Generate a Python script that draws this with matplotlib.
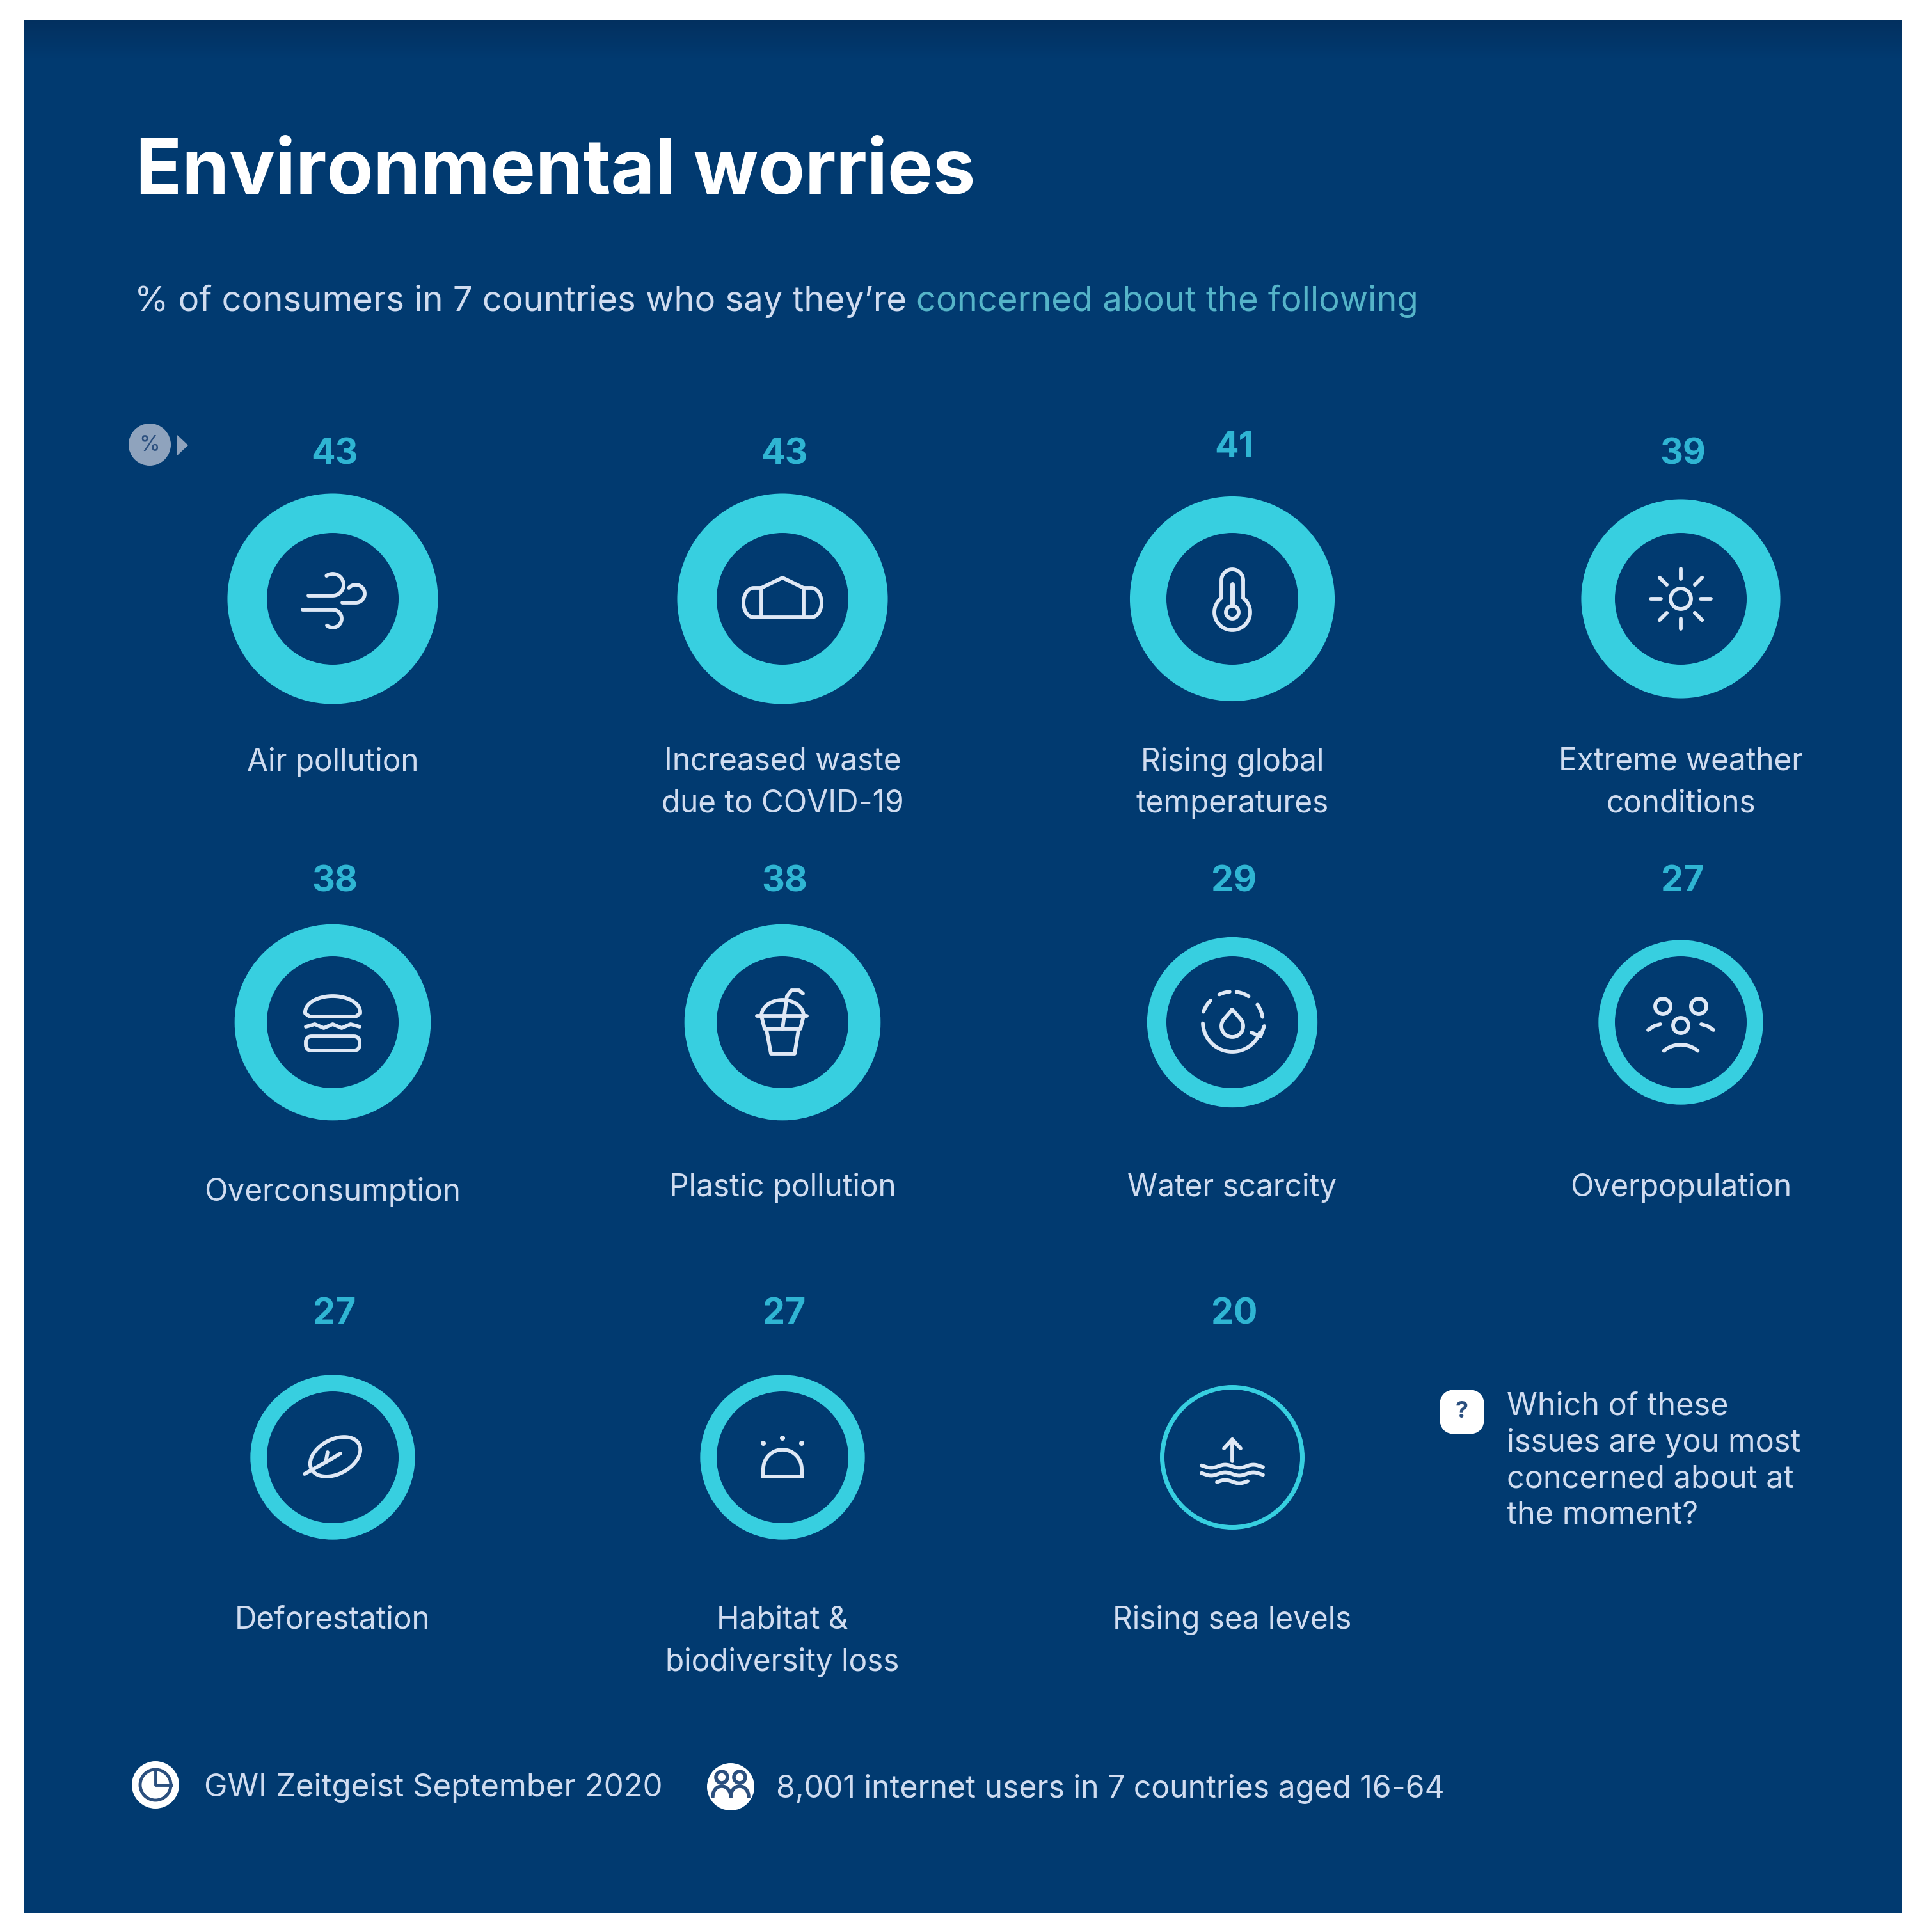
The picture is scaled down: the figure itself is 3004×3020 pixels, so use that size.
import numpy as np
import matplotlib
matplotlib.use("Agg")
import matplotlib.pyplot as plt
from matplotlib.patches import Wedge, Circle, Rectangle, FancyBboxPatch, Polygon

categories = ["Air pollution", "Increased waste\ndue to COVID-19", "Rising global\ntemperatures",
              "Extreme weather\nconditions", "Overconsumption", "Plastic pollution", "Water scarcity",
              "Overpopulation", "Deforestation", "Habitat &\nbiodiversity loss", "Rising sea levels"]
values = [43, 43, 41, 39, 38, 38, 29, 27, 27, 27, 20]
title = "Environmental worries"
subtitle_a = "% of consumers in 7 countries who say they\u2019re "
subtitle_b = "concerned about the following"
question = "Which of these\nissues are you most\nconcerned about at\nthe moment?"
source = "GWI Zeitgeist September 2020"
base = "8,001 internet users in 7 countries aged 16-64"

BG = "#013a70"; CY = "#37cfe0"; NUM = "#2fb5d3"; TXT = "#d0dcf0"; IC = "#dfe8f5"
FONT = "Inter"
plt.rcParams["font.family"] = [FONT, "DejaVu Sans"]

fig = plt.figure(figsize=(30.04, 30.20), dpi=100, facecolor="white")
ax = fig.add_axes([0, 0, 1, 1]); ax.set_xlim(0, 3004); ax.set_ylim(3020, 0); ax.axis("off")
ax.add_patch(Rectangle((37, 31), 2935, 2960, fc=BG, ec="none"))
# darker band at the panel's top edge
ax.imshow(np.linspace(0, 1, 60)[:, None], extent=(37, 2972, 91, 31), aspect="auto",
          cmap=matplotlib.colors.LinearSegmentedColormap.from_list("b", ["#03305f", BG]), zorder=1)
ax.set_xlim(0, 3004); ax.set_ylim(3020, 0)

col_x = [520, 1223, 1926, 2627]
row_y = [936, 1598, 2278]
num_y = [710, 1378, 2054]
lab_y = [1168, 1833, 2509]
LW = 4.2

def outer(v):
    return 113 + 2.24 * (v - 20)

def line(cx, cy, pts, lw=LW):
    p = np.array(pts, float)
    ax.plot(cx + p[:, 0], cy + p[:, 1], color=IC, lw=lw, solid_capstyle="round", solid_joinstyle="round", zorder=5)

def circ(cx, cy, x, y, r, lw=LW):
    ax.add_patch(Circle((cx + x, cy + y), r, fc="none", ec=IC, lw=lw, zorder=5))

def arcpts(x, y, r, a0, a1, ry=None):
    t = np.radians(np.linspace(a0, a1, 40))
    return np.c_[x + r * np.cos(t), y + (ry if ry else r) * np.sin(t)]

def arc(cx, cy, x, y, r, a0, a1, lw=LW):
    line(cx, cy, arcpts(x, y, r, a0, a1), lw)

def wind(cx, cy):
    line(cx, cy, np.r_[[(-38, -5), (0, -5)], arcpts(0, -22, 17, 90, -125)])
    line(cx, cy, np.r_[[(15, 6), (36, 6)], arcpts(36, -8, 14, 90, -140)])
    line(cx, cy, np.r_[[(-47, 17), (0, 17)], arcpts(0, 31, 14, -90, 130)])

def mask(cx, cy):
    line(cx, cy, np.r_[[(-33, -17), (0, -33), (33, -17), (45, -17)], arcpts(45, 6, 16, -90, 90, ry=23),
                       [(-45, 29)], arcpts(-45, 6, 16, 90, 270, ry=23), [(-33, -17)]])
    line(cx, cy, [(-33, -17), (-33, 29)])
    line(cx, cy, [(33, -17), (33, 29)])

def thermo(cx, cy):
    bulb = arcpts(0, 21, 28, -52.5, 232.5)
    stem = arcpts(0, -29, 17, 180, 360)
    line(cx, cy, np.r_[bulb, stem])
    line(cx, cy, [(17, -29), bulb[0]])
    circ(cx, cy, 0, 21, 10)
    line(cx, cy, [(0, -23), (0, 11)], lw=5)

def sun(cx, cy):
    circ(cx, cy, 0, 0, 16)
    for a in range(0, 360, 45):
        r = np.radians(a)
        line(cx, cy, [(31 * np.cos(r), 31 * np.sin(r)), (47 * np.cos(r), 47 * np.sin(r))])

def burger(cx, cy):
    line(cx, cy, np.r_[arcpts(0, -16, 43, 180, 360, ry=25), [(43, -14), (36, -9), (-36, -9), (-43, -14), (-43, -16)]])
    line(cx, cy, [(-42, 7), (-28, 3), (-14, 9), (0, 3), (14, 9), (28, 3), (42, 7)])
    ax.add_patch(FancyBboxPatch((cx - 42, cy + 22), 84, 22, boxstyle="round,pad=0,rounding_size=9", fc="none", ec=IC, lw=LW, zorder=5))

def cup(cx, cy):
    line(cx, cy, [(-40, -10), (38, -10)])
    line(cx, cy, arcpts(0, -10, 33, 180, 360, ry=25))
    line(cx, cy, [(-33, -10), (-28, 10), (28, 10), (33, -10)])
    line(cx, cy, [(-25, 12), (-18, 49), (19, 49), (25, 12)])
    line(cx, cy, [(0, 10), (7, -41), (14, -50), (26, -50), (32, -45)])

def water(cx, cy):
    t = np.radians(np.linspace(-40, 220, 50))
    line(cx, cy, np.r_[[(0, -20)], np.c_[17 * np.cos(t), 6 + 17 * np.sin(t)], [(0, -20)]])
    for a0, a1 in [(200, 225), (245, 265), (278, 302), (325, 350)]:
        arc(cx, cy, 0, 0, 48, a0, a1)
    arc(cx, cy, 0, 0, 46, 20, 178)
    line(cx, cy, [(30, 16), (44, 22), (50, 6)])

def people(cx, cy):
    circ(cx, cy, -28, -25, 12); circ(cx, cy, 28, -25, 12); circ(cx, cy, 0, 5, 12)
    line(cx, cy, [(-51, 12), (-42, 6), (-32, 3)]); line(cx, cy, [(51, 12), (42, 6), (32, 3)])
    arc(cx, cy, 0, 76, 41, 230, 310)

def leaf(cx, cy):
    p = arcpts(0, 0, 42, 0, 180, ry=27)
    q = arcpts(0, 0, 42, 180, 360, ry=27)
    c, s = np.cos(np.radians(-28)), np.sin(np.radians(-28))
    R = np.array([[c, -s], [s, c]])
    line(cx, cy, np.r_[p, q] @ R.T + [4, -1])
    line(cx, cy, [(-44, 26), (-8, 6), (12, -6)]); line(cx, cy, [(-11, 8), (-8, -8)])

def habitat(cx, cy):
    line(cx, cy, np.r_[arcpts(0, 18, 30, 180, 360), [(31, 30), (-31, 30), (-30, 18)]])
    for x, y in [(-30, -22), (0, -30), (30, -22)]:
        ax.add_patch(Circle((cx + x, cy + y), 4, fc=IC, ec="none", zorder=5))

def sea(cx, cy):
    line(cx, cy, [(0, 6), (0, -28)]); line(cx, cy, [(-13, -14), (0, -28), (13, -14)])
    for y, w in [(14, 48), (26, 48), (38, 24)]:
        x = np.linspace(-w, w, 40)
        line(cx, cy, np.c_[x, y + 2.5 * np.sin(x / 7)])

icons = [wind, mask, thermo, sun, burger, cup, water, people, leaf, habitat, sea]

for i, (c, v) in enumerate(zip(categories, values)):
    r_, k = divmod(i, 4)
    cx, cy = col_x[k], row_y[r_]
    R = outer(v)
    hole = 103 if v > 20 else 106
    ax.add_patch(Wedge((cx, cy), R, 0, 360, width=R - hole, fc=CY, ec="none", zorder=3))
    ny = num_y[r_] - (10 if v == 41 else 0)
    ax.text(cx + 3, ny, str(v), color=NUM, fontsize=40, fontweight="bold", ha="center", va="center", zorder=6)
    ly = lab_y[r_] + (7 if r_ == 1 and k == 0 else 0)
    ax.text(cx, ly, c, color=TXT, fontsize=34.4, ha="center", va="top", linespacing=1.53, zorder=6)
    icons[i](cx, cy)

ax.text(212, 272, title, color="white", fontsize=85.7, fontweight="bold", ha="left", va="center", zorder=6)
t1 = ax.text(210, 471, subtitle_a, color=TXT, fontsize=39.1, ha="left", va="center", zorder=6)
fig.canvas.draw()
bb = t1.get_window_extent()
x2 = ax.transData.inverted().transform((bb.x1, bb.y0))[0]
ax.text(x2, 471, subtitle_b, color="#55b4c8", fontsize=39.1, ha="left", va="center", zorder=6)

# % badge
ax.add_patch(Circle((234, 695), 33, fc="#8fa3bd", ec="none", zorder=5))
ax.text(234, 696, "%", color="#2b4f7e", fontsize=24, ha="center", va="center", zorder=6)
ax.add_patch(Polygon([(277, 680), (294, 696), (277, 712)], fc="#8fa3bd", ec="none", zorder=5))

# question
ax.add_patch(FancyBboxPatch((2250, 2172), 70, 70, boxstyle="round,pad=0,rounding_size=26", fc="white", ec="none", zorder=5))
ax.text(2285, 2206, "?", color="#2b4f7e", fontsize=26, fontweight="bold", ha="center", va="center", zorder=6)
ax.text(2355, 2175, question, color=TXT, fontsize=35, ha="left", va="top", linespacing=1.29, zorder=6)

# footer
for x, txt, tx, fy, ty, fs in [(243, source, 319, 2790, 2795, 35.4), (1142, base, 1213, 2793, 2797, 34.6)]:
    ax.add_patch(Circle((x, fy), 37, fc="white", ec="none", zorder=5))
    ax.text(tx, ty, txt, color=TXT, fontsize=fs, ha="left", va="center", zorder=6)
# source badge: pie glyph
ax.add_patch(Circle((243, 2790), 24, fc="none", ec="#2b4f7e", lw=3.5, zorder=6))
ax.plot([243, 243, 268], [2766, 2790, 2790], color="#2b4f7e", lw=3.5, zorder=6)
# people badge
for dx in (-14, 14):
    ax.add_patch(Circle((1142 + dx, 2778), 9, fc="none", ec="#2b4f7e", lw=4, zorder=6))
    t = np.radians(np.linspace(180, 360, 20))
    ax.plot(1142 + dx + 14 * np.cos(t), 2808 + 16 * np.sin(t), color="#2b4f7e", lw=4, zorder=6)

fig.savefig("out.png", dpi=100, facecolor="white")
